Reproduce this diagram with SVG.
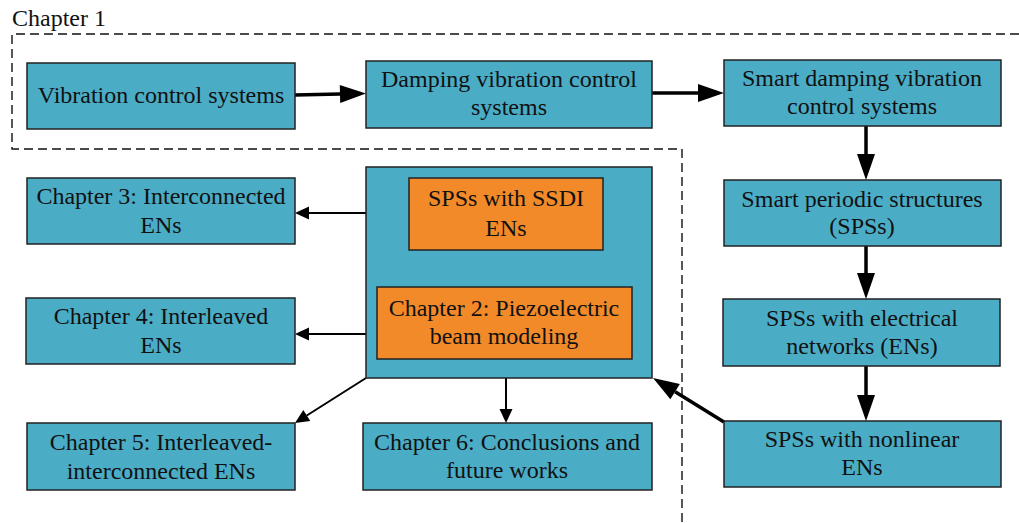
<svg xmlns="http://www.w3.org/2000/svg" width="1019" height="523" viewBox="0 0 1019 523" font-family="'Liberation Serif', 'Times New Roman', Times, serif" font-size="24">
<style>
  text { fill: #111; text-anchor: middle; }
  .box { fill: #4BACC6; stroke: #222; stroke-width: 1.5; }
  .obox { fill: #F28A2A; stroke: #222; stroke-width: 1.5; }
  .thick { stroke: #000; stroke-width: 3.5; fill: none; marker-end: url(#ahThick); }
  .thin { stroke: #000; stroke-width: 2; fill: none; marker-end: url(#ahThin); }
  .dash { stroke: #111; stroke-width: 1.4; fill: none; stroke-dasharray: 9 5; }
</style>
<defs>
  <marker id="ahThick" markerUnits="userSpaceOnUse" markerWidth="27" markerHeight="19" refX="0" refY="9" orient="auto" overflow="visible">
    <path d="M0,0 L26,9 L0,18 z" fill="#000"/>
  </marker>
  <marker id="ahThin" markerUnits="userSpaceOnUse" markerWidth="15" markerHeight="13" refX="0" refY="6.5" orient="auto" overflow="visible">
    <path d="M0,0 L14,6.5 L0,13 z" fill="#000"/>
  </marker>
</defs>
<rect width="1019" height="523" fill="#fff"/>

<g id="chapter1-frame">
  <path class="dash" d="M1019,34 H12 V149 H682 V523"/>
  <text x="12" y="26" text-anchor="start" style="text-anchor:start">Chapter 1</text>
</g>

<g id="connectors">
  <line class="thick" x1="295" y1="95" x2="340" y2="94"/>
  <line class="thick" x1="652" y1="93" x2="698" y2="93"/>
  <line class="thick" x1="866" y1="126" x2="866" y2="154"/>
  <line class="thick" x1="866" y1="246" x2="866" y2="273"/>
  <line class="thick" x1="866" y1="366" x2="866" y2="395"/>
  <line class="thick" x1="724" y1="422" x2="675.1" y2="391.7"/>
  <line class="thin" x1="506" y1="250" x2="506" y2="273"/>
  <line class="thin" x1="366" y1="213" x2="309" y2="213"/>
  <line class="thin" x1="366" y1="334" x2="309" y2="334"/>
  <line class="thin" x1="366" y1="378" x2="306.8" y2="415.5"/>
  <line class="thin" x1="506" y1="378" x2="506" y2="409"/>
</g>

<g id="n-vibration">
  <rect class="box" x="27" y="63" width="268" height="66"/>
  <text x="161" y="103">Vibration control systems</text>
</g>
<g id="n-damping">
  <rect class="box" x="366" y="61" width="286" height="67"/>
  <text x="509" y="87">Damping vibration control</text>
  <text x="509" y="115">systems</text>
</g>
<g id="n-smart-damping">
  <rect class="box" x="724" y="60" width="277" height="66"/>
  <text x="862" y="86">Smart damping vibration</text>
  <text x="862" y="114">control systems</text>
</g>
<g id="n-sps">
  <rect class="box" x="724" y="180" width="277" height="66"/>
  <text x="862" y="207">Smart periodic structures</text>
  <text x="862" y="234">(SPSs)</text>
</g>
<g id="n-sps-en">
  <rect class="box" x="723" y="299" width="277" height="67"/>
  <text x="862" y="326">SPSs with electrical</text>
  <text x="862" y="354">networks (ENs)</text>
</g>
<g id="n-sps-nonlinear">
  <rect class="box" x="724" y="421" width="277" height="66"/>
  <text x="862" y="447">SPSs with nonlinear</text>
  <text x="862" y="475">ENs</text>
</g>
<g id="n-center">
  <rect class="box" x="366" y="167" width="286" height="211"/>
</g>
<g id="n-ssdi">
  <rect class="obox" x="409" y="178" width="194" height="72"/>
  <text x="506" y="206">SPSs with SSDI</text>
  <text x="506" y="236">ENs</text>
</g>
<g id="n-chapter2">
  <rect class="obox" x="377" y="287" width="255" height="72"/>
  <text x="504" y="316">Chapter 2: Piezoelectric</text>
  <text x="504" y="344">beam modeling</text>
</g>
<g id="n-chapter3">
  <rect class="box" x="27" y="178" width="268" height="66"/>
  <text x="161" y="204">Chapter 3: Interconnected</text>
  <text x="161" y="233">ENs</text>
</g>
<g id="n-chapter4">
  <rect class="box" x="26" y="298" width="269" height="66"/>
  <text x="161" y="324">Chapter 4: Interleaved</text>
  <text x="161" y="353">ENs</text>
</g>
<g id="n-chapter5">
  <rect class="box" x="27" y="423" width="268" height="67"/>
  <text x="161" y="450">Chapter 5: Interleaved-</text>
  <text x="161" y="479">interconnected ENs</text>
</g>
<g id="n-chapter6">
  <rect class="box" x="363" y="423" width="289" height="67"/>
  <text x="507" y="450">Chapter 6: Conclusions and</text>
  <text x="507" y="478">future works</text>
</g>
</svg>
